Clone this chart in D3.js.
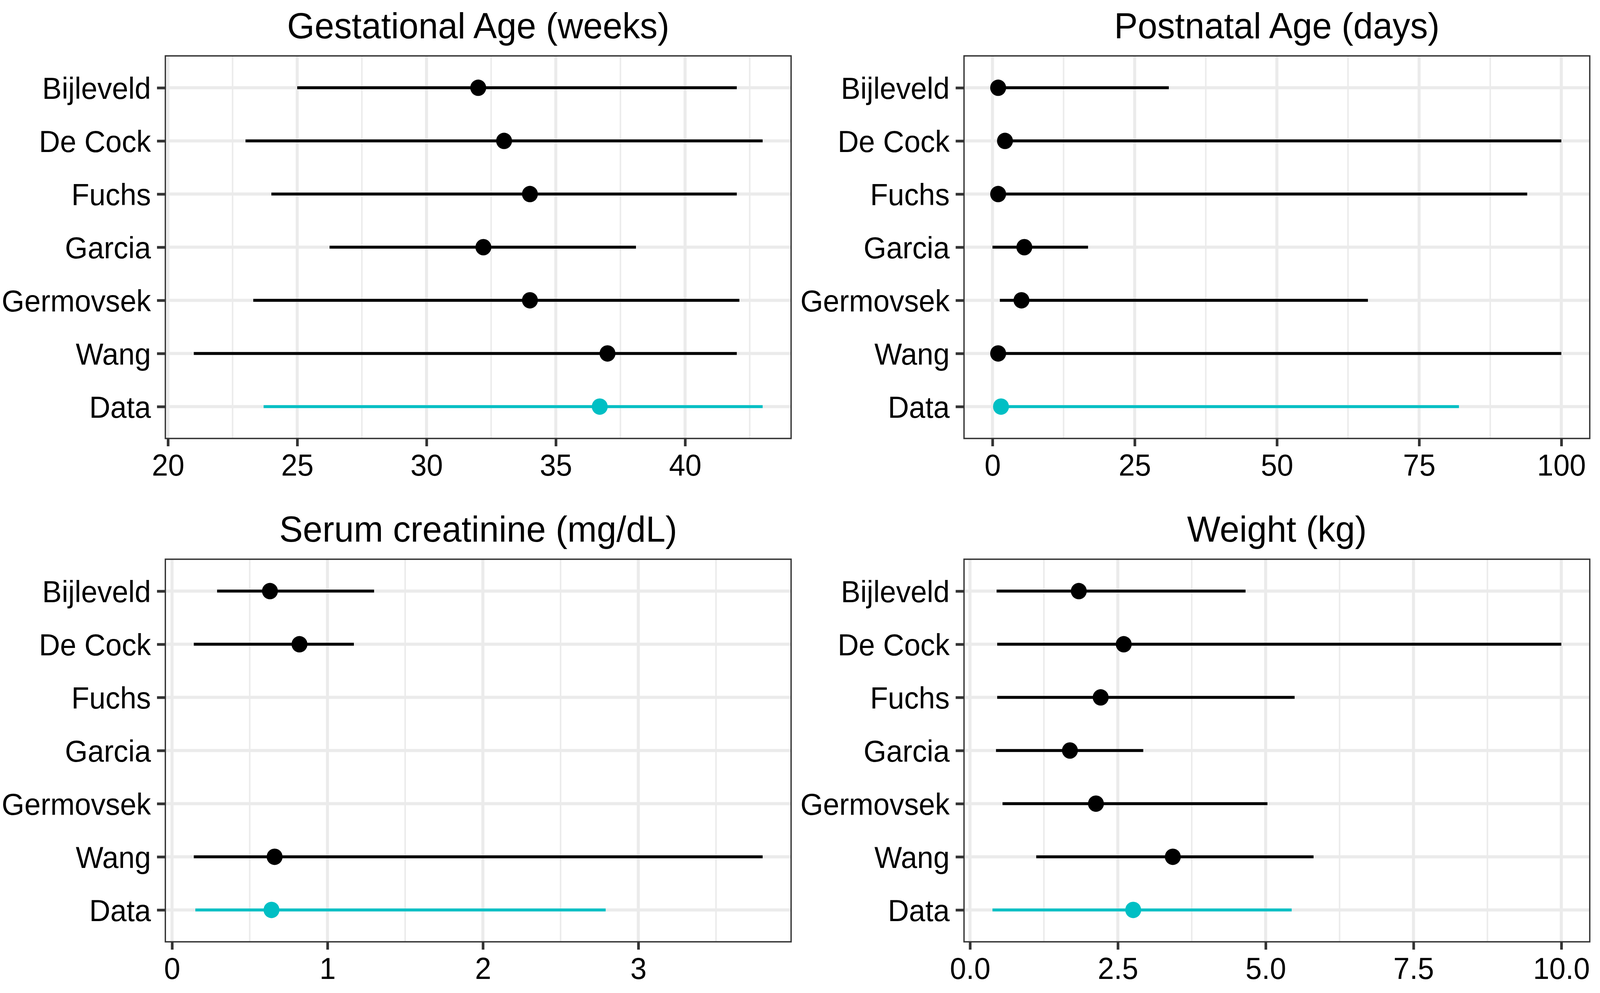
<!DOCTYPE html>
<html>
<head>
<meta charset="utf-8">
<script src="https://cdn.jsdelivr.net/npm/d3@7"></script>
<style>
  html, body { margin: 0; padding: 0; background: #fff; overflow: hidden; }
  #chart { display: block; width: 100vw; height: 100vh; }
  text { font-family: 'Liberation Sans', Arial, Helvetica, sans-serif; }
</style>
</head>
<body>
<svg id="chart"></svg>
<script>
// study names, top to bottom
const studies = ['Bijleveld', 'De Cock', 'Fuchs', 'Garcia', 'Germovsek', 'Wang', 'Data'];

// gestational age (weeks): min / median / max
const gaLow = [25, 23, 24, 26.25, 23.3, 21, 23.7];
const gaMid = [32, 33, 34, 32.2, 34, 37, 36.7];
const gaHigh = [42, 43, 42, 38.1, 42.1, 42, 43];
const gaTicks = [20, 25, 30, 35, 40];

// postnatal age (days)
const pnaLow = [0.5, 1, 0.5, 0, 1.3, 0.5, 0.5];
const pnaMid = [1, 2.2, 1, 5.6, 5.1, 1, 1.5];
const pnaHigh = [31, 100, 94, 16.8, 66, 100, 82];
const pnaTicks = [0, 25, 50, 75, 100];

// serum creatinine (mg/dL), null = not reported
const scrLow = [0.29, 0.14, null, null, null, 0.14, 0.15];
const scrMid = [0.63, 0.82, null, null, null, 0.66, 0.64];
const scrHigh = [1.30, 1.17, null, null, null, 3.80, 2.79];
const scrTicks = [0, 1, 2, 3];

// weight (kg)
const wtLow = [0.45, 0.46, 0.46, 0.44, 0.55, 1.12, 0.38];
const wtMid = [1.84, 2.60, 2.21, 1.69, 2.13, 3.43, 2.76];
const wtHigh = [4.66, 10, 5.49, 2.93, 5.03, 5.81, 5.44];
const wtTicks = [0, 2.5, 5, 7.5, 10];

const W = 4219, H = 2541;
const svg = d3.select('#chart').attr('viewBox', `0 0 ${W} ${H}`).attr('preserveAspectRatio', 'none');
svg.append('rect').attr('width', W).attr('height', H).attr('fill', '#fff');

const panels = [
  { title: 'Gestational Age (weeks)', low: gaLow, mid: gaMid, high: gaHigh, ticks: gaTicks, fmt: d3.format('d'), x: 436, y: 143 },
  { title: 'Postnatal Age (days)', low: pnaLow, mid: pnaMid, high: pnaHigh, ticks: pnaTicks, fmt: d3.format('d'), x: 2542, y: 143 },
  { title: 'Serum creatinine (mg/dL)', low: scrLow, mid: scrMid, high: scrHigh, ticks: scrTicks, fmt: d3.format('d'), x: 436, y: 1431 },
  { title: 'Weight (kg)', low: wtLow, mid: wtMid, high: wtHigh, ticks: wtTicks, fmt: d3.format('.1f'), x: 2542, y: 1431 },
];
const pw = 1650, ph = 979;
const teal = '#00BFC4';

panels.forEach(p => {
  const g = svg.append('g').attr('transform', `translate(${p.x},${p.y})`);
  const vals = p.low.concat(p.high).filter(v => v != null);
  const [lo, hi] = d3.extent(vals);
  const pad = (hi - lo) * 0.05;
  const x = d3.scaleLinear().domain([lo - pad, hi + pad]).range([0, pw]);
  const y = d3.scalePoint().domain(studies).range([0, ph]).padding(0.6);

  // minor grid at midpoints between major ticks
  const step = p.ticks[1] - p.ticks[0];
  const minor = d3.range(p.ticks[0] - step / 2, hi + pad, step).filter(v => v > lo - pad && v < hi + pad);
  g.selectAll('.minor').data(minor).enter().append('line')
    .attr('x1', d => x(d)).attr('x2', d => x(d)).attr('y1', 0).attr('y2', ph)
    .attr('stroke', '#EBEBEB').attr('stroke-width', 4);
  g.selectAll('.major').data(p.ticks).enter().append('line')
    .attr('x1', d => x(d)).attr('x2', d => x(d)).attr('y1', 0).attr('y2', ph)
    .attr('stroke', '#EBEBEB').attr('stroke-width', 8);
  g.selectAll('.hgrid').data(studies).enter().append('line')
    .attr('x1', 0).attr('x2', pw).attr('y1', d => y(d)).attr('y2', d => y(d))
    .attr('stroke', '#EBEBEB').attr('stroke-width', 8);

  const rows = studies.map((s, i) => ({ s, low: p.low[i], mid: p.mid[i], high: p.high[i] }))
    .filter(d => d.mid != null);
  const col = d => d.s === 'Data' ? teal : '#000';
  g.selectAll('.range').data(rows).enter().append('line')
    .attr('x1', d => x(d.low)).attr('x2', d => x(d.high))
    .attr('y1', d => y(d.s)).attr('y2', d => y(d.s))
    .attr('stroke', col).attr('stroke-width', 7.5);
  g.selectAll('.pt').data(rows).enter().append('circle')
    .attr('cx', d => x(d.mid)).attr('cy', d => y(d.s)).attr('r', 21)
    .attr('fill', col);

  g.append('rect').attr('width', pw).attr('height', ph)
    .attr('fill', 'none').attr('stroke', '#333').attr('stroke-width', 3.5);

  // axes
  const ax = g.append('g').attr('transform', `translate(0,${ph})`)
    .call(d3.axisBottom(x).tickValues(p.ticks).tickFormat(p.fmt).tickSize(20).tickPadding(20));
  const ay = g.append('g')
    .call(d3.axisLeft(y).tickSize(22).tickPadding(16));
  [ax, ay].forEach(a => {
    a.select('.domain').remove();
    a.selectAll('.tick line').attr('stroke', '#333').attr('stroke-width', 7);
    a.selectAll('.tick text').attr('fill', '#000').style('font-size', '77px')
      .style('font-family', "'Liberation Sans', Arial, sans-serif");
  });
  ax.selectAll('.tick text').attr('dy', '0.71em');
  ay.selectAll('.tick text').attr('dy', '0.36em');

  g.append('text').attr('x', pw / 2).attr('y', -45)
    .attr('text-anchor', 'middle').style('font-size', '93px').attr('fill', '#000')
    .text(p.title);
});
</script>
</body>
</html>
